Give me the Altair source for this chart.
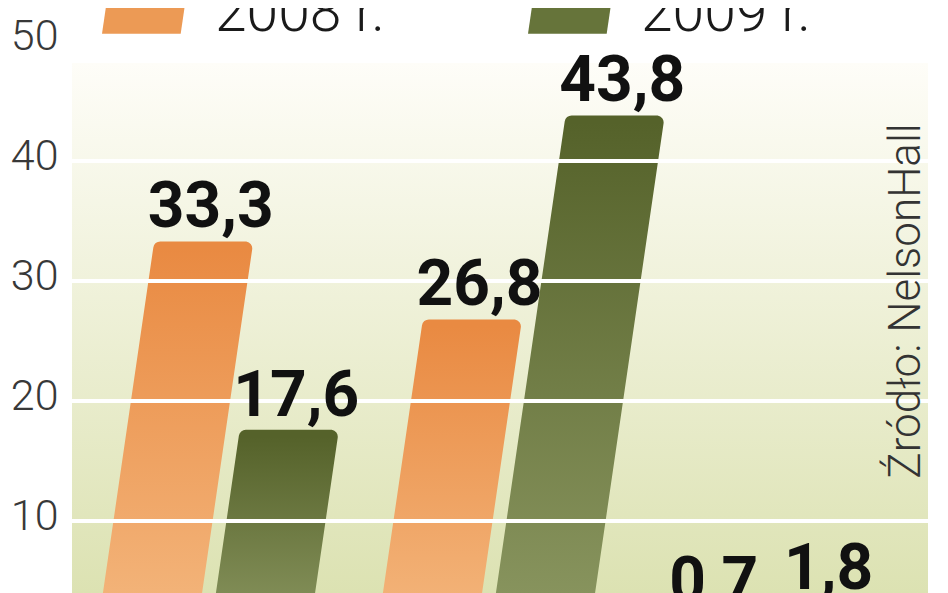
import altair as alt
import pandas as pd

# ---------------- data ----------------
categories = ["Grupa 1", "Grupa 2", "Grupa 3"]
series_names = ["2008 r.", "2009 r."]
values_2008 = [33.3, 26.8, 0.7]
values_2009 = [17.6, 43.8, 1.8]
y_ticks = [10, 20, 30, 40, 50]
grid_values = [10, 20, 30, 40]
source_text = "Źródło: NelsonHall"

# ---------------- layout / style ----------------
W, H = 856, 564
Y_DOMAIN = [4, 51]
PX_PER_UNIT = H / (Y_DOMAIN[1] - Y_DOMAIN[0])
GROUP_STEP = 280
SERIES_STEP = 113
BAR_W = 99
START = 24
SLANT = 1.75          # px of rightward lean per unit of value
R = 7                 # corner rounding radius (px)
PANEL_TOP = 34

ORANGE = "#ec9a55"
GREEN = "#66743a"
GRADS = {
    "2008 r.": ("#e98a42", "#f4b87f"),
    "2009 r.": ("#55622a", "#8c9862"),
}


def grad(top, bottom):
    return {"gradient": "linear", "x1": 0, "y1": 0, "x2": 0, "y2": 1,
            "stops": [{"offset": 0, "color": top}, {"offset": 1, "color": bottom}]}


rows = []
for gi, cat in enumerate(categories):
    for si, (s, vals) in enumerate(zip(series_names, [values_2008, values_2009])):
        rows.append({"category": cat, "series": s, "value": vals[gi], "gi": gi, "si": si})
df = pd.DataFrame(rows)

xs = alt.Scale(domain=[0, W], nice=False, zero=False)
ys = alt.Scale(domain=Y_DOMAIN, nice=False, zero=False)
yaxis = alt.Axis(values=y_ticks, title=None, grid=False, ticks=False, domain=False,
                 labelFont="Roboto", labelFontSize=43, labelFontWeight=300,
                 labelColor="#383838", labelPadding=14, labelOffset=-5)


def yenc(field):
    return alt.Y(field, scale=ys, axis=yaxis)


# background panel
bg = alt.Chart(pd.DataFrame({"a": [0]})).mark_rect(
    fill=grad("#fefdf8", "#dce2b2")
).encode(x=alt.value(0), x2=alt.value(W), y=alt.value(PANEL_TOP), y2=alt.value(H))

# slanted bars (parallelograms) per series
bar_layers = []
for s in series_names:
    top, bottom = GRADS[s]
    g = grad(top, bottom)
    layer = alt.Chart(df).transform_filter(
        alt.datum.series == s
    ).transform_calculate(
        pts=f"[0, datum.value - {R / PX_PER_UNIT}]"
    ).transform_flatten(
        ["pts"]
    ).transform_calculate(
        xl=f"{START} + datum.gi * {GROUP_STEP} + datum.si * {SERIES_STEP} + {SLANT} * datum.pts + {R}",
        xr=f"{START} + datum.gi * {GROUP_STEP} + datum.si * {SERIES_STEP} + {SLANT} * datum.pts + {BAR_W - R}",
    ).mark_area(
        orient="horizontal", clip=True, fill=g, stroke=g, strokeWidth=2 * R,
        strokeJoin="round", opacity=1
    ).encode(
        x=alt.X("xl:Q", scale=xs, axis=None, stack=None),
        x2="xr:Q",
        y=yenc("pts:Q"),
        detail="category:N",
    )
    bar_layers.append(layer)

# white grid lines over the bars
grid = alt.Chart(pd.DataFrame({"v": grid_values})).mark_rule(
    color="white", strokeWidth=4
).encode(y=yenc("v:Q"), x=alt.value(0), x2=alt.value(W))

# value labels
labels = alt.Chart(df).transform_calculate(
    label="replace(format(datum.value, '.1f'), '.', ',')",
    xc=f"{START} + datum.gi * {GROUP_STEP} + datum.si * {SERIES_STEP} + {SLANT} * datum.value + {BAR_W / 2}",
    ylab="datum.value < 5 ? datum.value + 1.4 : datum.value",
).mark_text(
    font="Roboto", fontSize=64, fontWeight="bold", color="#111111",
    align="center", baseline="alphabetic", dy=-14, dx=7
).encode(
    x=alt.X("xc:Q", scale=xs, axis=None),
    y=yenc("ylab:Q"),
    text="label:N",
)

# source note
src = alt.Chart(pd.DataFrame({"t": [source_text]})).mark_text(
    font="Roboto", fontSize=44, fontWeight=300, color="#333333",
    angle=270, align="center", baseline="alphabetic"
).encode(x=alt.value(848), y=alt.value(272), text="t:N")

# legend-only layer
legend_layer = alt.Chart(pd.DataFrame({"series": series_names})).transform_filter(
    "false"
).mark_point(filled=True, opacity=1).encode(
    color=alt.Color(
        "series:N",
        scale=alt.Scale(domain=series_names, range=[ORANGE, GREEN]),
        legend=alt.Legend(
            orient="none", legendX=30, legendY=-58, direction="horizontal",
            title=None, padding=0, columnPadding=143, labelOffset=27,
            symbolType="M -1 0.46 L 0.83 0.46 L 1 -0.7 L -0.83 -0.7 Z",
            symbolSize=7396, symbolStrokeWidth=0, symbolOpacity=1,
            labelFont="Roboto", labelFontSize=57, labelFontWeight=300,
            labelColor="#1a1a1a", labelLimit=400,
        ),
    )
)

chart = alt.layer(bg, *bar_layers, grid, labels, src, legend_layer).properties(
    width=W, height=H,
    padding={"left": 64, "top": 21, "right": 0, "bottom": 0},
    autosize=alt.AutoSizeParams(type="none"),
    background="white",
).configure_view(stroke=None)

chart.save("out.html", embed_options={"renderer": "svg", "actions": False})
